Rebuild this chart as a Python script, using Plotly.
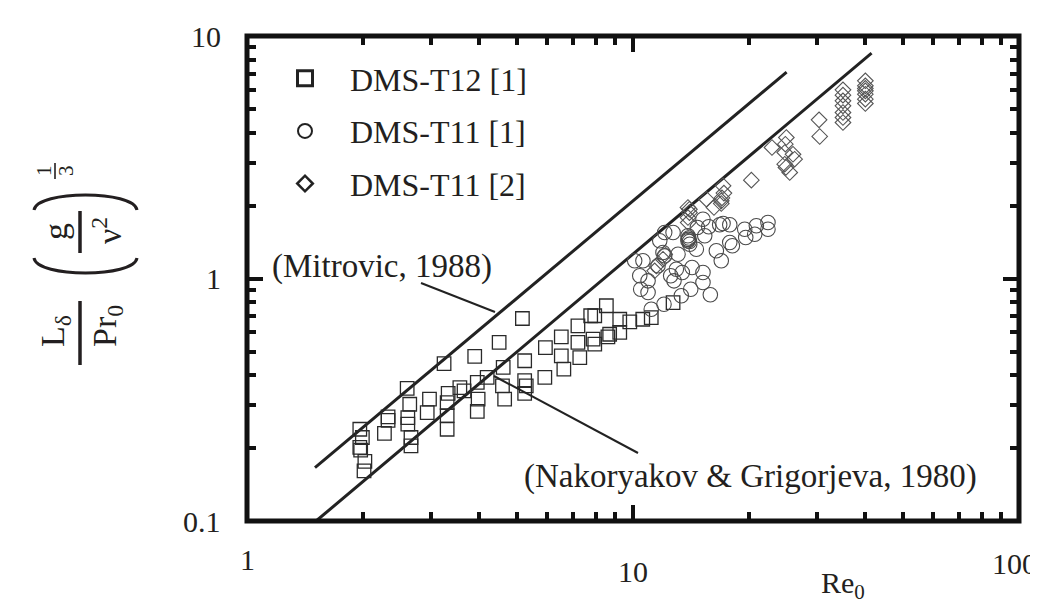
import math
import plotly.graph_objects as go

# ---------------- data ----------------
t12_re = [1.96, 1.99, 1.96, 1.97, 2.02, 2.01, 2.32, 2.27, 2.32, 2.60,
          2.64, 2.61, 2.61, 2.66, 2.66, 2.97, 2.93, 3.24, 3.32, 3.30,
          3.30, 3.30, 3.56, 3.65, 3.89, 3.95, 3.97, 3.95, 4.19, 4.50,
          4.61, 4.59, 4.65, 5.17, 5.24, 5.24, 5.29, 5.24, 5.93, 5.91,
          6.52, 6.52, 6.62, 7.20, 7.20, 7.28, 7.77, 7.96, 7.88, 8.53,
          8.61, 8.70, 7.96, 9.24, 9.24, 9.81, 10.6, 11.15, 12.7]
t12_val = [0.239, 0.221, 0.201, 0.196, 0.176, 0.161, 0.269, 0.230, 0.260, 0.352,
           0.303, 0.267, 0.251, 0.221, 0.204, 0.318, 0.280, 0.446, 0.336, 0.308,
           0.272, 0.239, 0.355, 0.344, 0.477, 0.373, 0.318, 0.283, 0.391, 0.545,
           0.430, 0.361, 0.318, 0.684, 0.458, 0.379, 0.361, 0.336, 0.519, 0.391,
           0.575, 0.480, 0.423, 0.638, 0.545, 0.472, 0.702, 0.536, 0.562, 0.772,
           0.575, 0.589, 0.702, 0.679, 0.599, 0.663, 0.679, 0.690, 0.796]

t11a_re = [10.10, 10.61, 10.41, 10.47, 10.94, 11.15, 11.73, 12.08, 12.03, 12.52,
           12.77, 12.70, 13.08, 12.95, 13.34, 13.42, 13.88, 13.88, 14.03, 14.22,
           14.11, 14.59, 14.68, 15.18, 15.18, 15.18, 15.34, 15.71, 15.86, 16.44,
           16.93, 16.77, 17.11, 17.81, 17.81, 18.09, 19.47, 19.59, 20.67, 20.87,
           22.37, 22.37, 12.08, 11.96, 11.61, 10.94, 13.90, 14.00, 13.95]
t11a_val = [1.183, 1.183, 1.026, 0.903, 0.978, 0.747, 1.431, 1.240, 0.783, 1.026,
            0.978, 1.548, 1.259, 1.092, 0.849, 1.059, 1.431, 1.500, 1.385, 1.110,
            0.903, 1.321, 1.623, 1.756, 1.059, 0.963, 1.500, 1.634, 0.857, 1.301,
            1.183, 1.665, 1.686, 1.665, 1.408, 1.364, 1.597, 1.476, 1.522, 1.650,
            1.702, 1.597, 1.548, 1.280, 1.128, 0.876, 1.45, 1.42, 1.47]

t11b_re = [17.11, 16.93, 16.93, 15.49, 16.21, 13.88, 13.88, 14.0, 12.08, 11.96,
           11.49, 11.38, 20.26, 22.91, 24.96, 24.81, 24.72, 25.97, 26.23, 24.72,
           25.47, 30.34, 30.46, 34.99, 34.99, 34.99, 34.99, 34.99, 34.99, 34.99,
           39.99, 39.99, 39.99, 39.99, 39.99, 39.99, 39.99, 17.2, 17.0, 14.0,
           13.9, 24.9]
t11b_val = [2.412, 2.091, 2.038, 2.123, 1.963, 1.963, 1.784, 1.87, 1.259, 1.201,
            1.128, 1.076, 2.543, 3.469, 3.815, 3.579, 3.308, 3.254, 3.104, 2.960,
            2.736, 4.512, 3.852, 5.999, 5.404, 5.154, 4.836, 4.612, 4.398, 5.7,
            6.536, 6.232, 5.943, 5.754, 5.488, 5.268, 6.08, 2.25, 2.15, 1.93,
            1.70, 2.87]

mitrovic_re = [1.5, 25.0]
mitrovic_val = [0.166, 7.1]
nakoryakov_re = [1.51, 41.5]
nakoryakov_val = [0.1, 8.5]

series_names = ["DMS-T12 [1]", "DMS-T11 [1]", "DMS-T11 [2]"]
x_tick_vals = [1, 10, 100]
x_tick_text = ["1", "10", "100"]
y_tick_vals = [0.1, 1, 10]
y_tick_text = ["0.1", "1", "10"]
x_minor_vals = [2, 3, 4, 5, 6, 7, 8, 9, 20, 30, 40, 50, 60, 70, 80, 90]
y_minor_vals = [0.2, 0.3, 0.4, 0.5, 0.6, 0.7, 0.8, 0.9, 2, 3, 4, 5, 6, 7, 8, 9]

# ---------------- layout helpers ----------------
W, H = 1038, 607
L_PX, R_PX, T_PX, B_PX = 239, 1011, 28, 513
FONT = "Liberation Serif"
INK = "#231f20"


def px(x):
    return (x - L_PX) / (R_PX - L_PX)


def py(y):
    return (B_PX - y) / (B_PX - T_PX)


fig = go.Figure()

fig.add_trace(go.Scatter(x=mitrovic_re, y=mitrovic_val, mode="lines",
                         line=dict(color="#222222", width=3), showlegend=False))
fig.add_trace(go.Scatter(x=nakoryakov_re, y=nakoryakov_val, mode="lines",
                         line=dict(color="#222222", width=3), showlegend=False))

fig.add_trace(go.Scatter(x=t12_re, y=t12_val, mode="markers", showlegend=False,
                         marker=dict(symbol="square-open", size=13.5, color="#2a2a2a",
                                     line=dict(width=1.3, color="#2a2a2a"))))
fig.add_trace(go.Scatter(x=t11a_re, y=t11a_val, mode="markers", showlegend=False,
                         marker=dict(symbol="circle-open", size=14.5, color="#4a4a4a",
                                     line=dict(width=1.1, color="#4a4a4a"))))
fig.add_trace(go.Scatter(x=t11b_re, y=t11b_val, mode="markers", showlegend=False,
                         marker=dict(symbol="diamond-open", size=12, color="#555555",
                                     line=dict(width=1.1, color="#555555"))))

# legend entries
leg_styles = [
    dict(symbol="square-open", size=15, color="#222222", line=dict(width=3, color="#222222")),
    dict(symbol="circle-open", size=14, color="#222222", line=dict(width=2, color="#222222")),
    dict(symbol="diamond-open", size=12, color="#222222", line=dict(width=2.5, color="#222222")),
]
for i, (nm, st) in enumerate(zip(series_names, leg_styles)):
    fig.add_trace(go.Scatter(x=[None], y=[None], mode="markers", name=nm,
                             marker=st, legendgroup="g%d" % i, showlegend=True))

axis_common = dict(type="log", showline=False, showgrid=False, zeroline=False,
                   ticks="inside", ticklen=16, tickwidth=3.5, tickcolor="#111111",
                   showticklabels=False, mirror="ticks")
fig.update_layout(
    width=W, height=H,
    margin=dict(l=L_PX, r=W - R_PX, t=T_PX, b=H - B_PX, pad=0),
    paper_bgcolor="white", plot_bgcolor="white",
    font=dict(family=FONT, color=INK, size=32),
    xaxis=dict(range=[0, 2], tickvals=x_tick_vals,
               minor=dict(tickvals=x_minor_vals, ticks="inside", ticklen=9,
                          tickwidth=3.5, tickcolor="#111111"),
               **axis_common),
    yaxis=dict(range=[-1, 1], tickvals=y_tick_vals,
               minor=dict(tickvals=y_minor_vals, ticks="inside", ticklen=9,
                          tickwidth=3.5, tickcolor="#111111"),
               **axis_common),
    legend=dict(x=px(252), y=py(43), xanchor="left", yanchor="top",
                bgcolor="rgba(0,0,0,0)", borderwidth=0,
                font=dict(family=FONT, size=32, color=INK),
                tracegroupgap=8, itemwidth=80, traceorder="grouped"),
    showlegend=True,
)

shapes = []
# frame
shapes.append(dict(type="rect", xref="paper", yref="paper", x0=0, x1=1, y0=0, y1=1,
                   line=dict(color="#111111", width=5), layer="above"))
# leader lines
for (x0, y0, x1, y1) in [(413, 275, 487, 304), (486, 368, 630, 445)]:
    shapes.append(dict(type="line", xref="paper", yref="paper",
                       x0=px(x0), y0=py(y0), x1=px(x1), y1=py(y1),
                       line=dict(color="#222222", width=2)))
# fraction bars of the y title
for (xb, ya, yb, w) in [(72, 293, 357, 3.5), (72, 203, 245, 3.5), (47, 155, 171, 1.6)]:
    shapes.append(dict(type="line", xref="paper", yref="paper",
                       x0=px(xb), y0=py(ya), x1=px(xb), y1=py(yb),
                       line=dict(color=INK, width=w)))


def path_px(pts):
    (a, b), (c1, c2), (d1, d2), (e1, e2) = pts
    return "M %f,%f C %f,%f %f,%f %f,%f" % (px(a), py(b), px(c1), py(c2),
                                           px(d1), py(d2), px(e1), py(e2))


shapes.append(dict(type="path", xref="paper", yref="paper",
                   path=path_px([(26, 202), (29, 182), (126, 182), (129, 202)]),
                   line=dict(color=INK, width=3)))
shapes.append(dict(type="path", xref="paper", yref="paper",
                   path=path_px([(26, 250), (29, 270), (126, 270), (129, 250)]),
                   line=dict(color=INK, width=3)))
fig.update_layout(shapes=shapes)

ann = []


def add_text(text, x, y, size, angle=0, xanchor="center", yanchor="middle"):
    ann.append(dict(text=text, xref="paper", yref="paper", x=px(x), y=py(y),
                    xanchor=xanchor, yanchor=yanchor, showarrow=False,
                    textangle=angle, font=dict(family=FONT, size=size, color=INK)))


# tick labels
for v, t, ypix, xs in zip(x_tick_vals, x_tick_text, [551, 563, 555], [0, 0, -5]):
    ann.append(dict(text=t, xref="x", yref="paper", x=math.log10(v), y=py(ypix),
                    xanchor="center", yanchor="middle", showarrow=False, xshift=xs,
                    font=dict(family=FONT, size=30, color=INK)))
for v, t in zip(y_tick_vals, y_tick_text):
    ann.append(dict(text=t, xref="paper", yref="y", x=px(215), y=math.log10(v),
                    xanchor="right", yanchor="middle", showarrow=False,
                    font=dict(family=FONT, size=30, color=INK)))

add_text("Re<sub>0</sub>", 835, 598, 30, yanchor="bottom")
add_text("(Mitrovic, 1988)", 374, 258, 33)
add_text("(Nakoryakov &amp; Grigorjeva, 1980)", 742, 468, 33)

# y-axis title, built from rotated pieces
add_text("L<sub>δ</sub>", 47, 323, 34, -90)
add_text("Pr<sub>0</sub>", 99, 318, 34, -90)
add_text("g", 47, 224, 34, -90)
add_text("ν<sup>2</sup>", 99, 223, 34, -90)
add_text("1", 36, 163, 21, -90)
add_text("3", 58, 163, 21, -90)

fig.update_layout(annotations=ann)

fig.write_html("out.html", config={"displayModeBar": False})
